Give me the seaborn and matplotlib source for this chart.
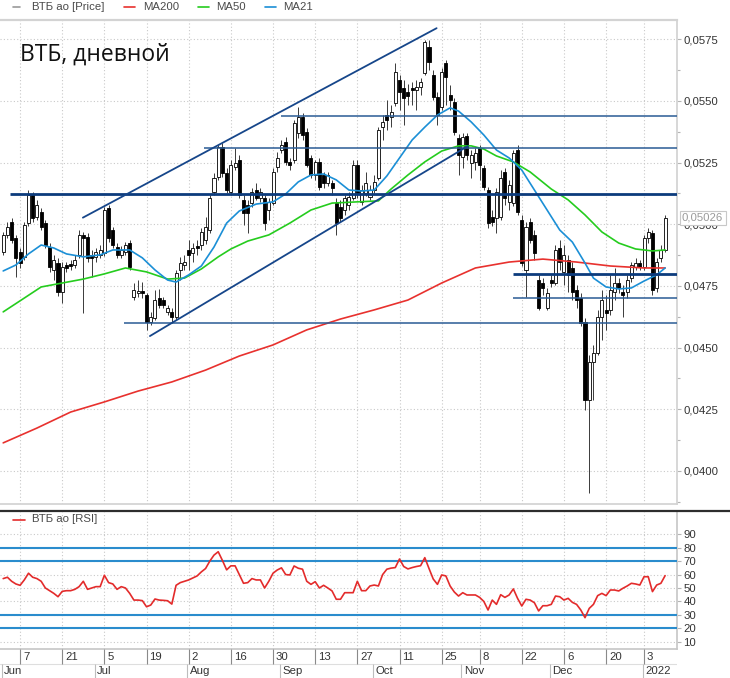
import numpy as np
import pandas as pd
import matplotlib
matplotlib.use("Agg")
import matplotlib.pyplot as plt
import matplotlib.transforms as mtrans
from matplotlib.lines import Line2D
from matplotlib.ticker import MultipleLocator, FuncFormatter
import seaborn as sns

# торговые дни MOEX, 1 июня 2021 - 11 января 2022
days = pd.bdate_range("2021-06-01", "2022-01-11", freq="C",
                      holidays=["2021-11-04", "2021-12-31", "2022-01-07"])

# свечи ВТБ ао (O, H, L, C), читаю с картинки
opens = [0.04888, 0.04957, 0.05009, 0.04945, 0.04888, 0.04868, 0.05005, 0.05119, 0.05030, 0.05050,
         0.05005, 0.04908, 0.04815, 0.04843, 0.04726, 0.04835, 0.04839, 0.04835, 0.04876, 0.04957,
         0.04949, 0.04876, 0.04868, 0.04876, 0.04884, 0.05066, 0.04977, 0.04908, 0.04876, 0.04888,
         0.04924, 0.04705, 0.04722, 0.04730, 0.04713, 0.04604, 0.04620, 0.04701, 0.04693, 0.04645,
         0.04645, 0.04624, 0.04815, 0.04835, 0.04896, 0.04884, 0.04912, 0.04916, 0.04936, 0.04977,
         0.05131, 0.05192, 0.05313, 0.05208, 0.05131, 0.05232, 0.05261, 0.05099, 0.05078, 0.05086,
         0.05139, 0.05107, 0.05107, 0.05058, 0.05086, 0.05232, 0.05301, 0.05334, 0.05253, 0.05261,
         0.05370, 0.05435, 0.05374, 0.05269, 0.05200, 0.05253, 0.05200, 0.05167, 0.05167, 0.05086,
         0.05070, 0.05058, 0.05078, 0.05107, 0.05240, 0.05091, 0.05127, 0.05111, 0.05139, 0.05188,
         0.05395, 0.05443, 0.05435, 0.05492, 0.05585, 0.05553, 0.05536, 0.05553, 0.05544, 0.05557,
         0.05613, 0.05719, 0.05605, 0.05516, 0.05475, 0.05654, 0.05524, 0.05496, 0.05350, 0.05273,
         0.05358, 0.05249, 0.05253, 0.05309, 0.05228, 0.05139, 0.05030, 0.05026, 0.05030, 0.05212,
         0.05091, 0.05086, 0.05301, 0.05018, 0.04815, 0.05009, 0.04957, 0.04774, 0.04762, 0.04661,
         0.04774, 0.04762, 0.04904, 0.04807, 0.04855, 0.04823, 0.04734, 0.04701, 0.04604, 0.04288,
         0.04442, 0.04478, 0.04624, 0.04653, 0.04653, 0.04726, 0.04762, 0.04726, 0.04726, 0.04782,
         0.04827, 0.04843, 0.04827, 0.04945, 0.04965, 0.04742, 0.04864, 0.04896]
highs = [0.04969, 0.05009, 0.05026, 0.04957, 0.04904, 0.05009, 0.05139, 0.05131, 0.05099, 0.05066,
         0.05018, 0.04924, 0.04876, 0.04864, 0.04847, 0.04847, 0.04855, 0.04876, 0.04977, 0.04969,
         0.04965, 0.04896, 0.04904, 0.04916, 0.05070, 0.05078, 0.04989, 0.04924, 0.04912, 0.04928,
         0.04936, 0.04762, 0.04774, 0.04766, 0.04722, 0.04645, 0.04734, 0.04738, 0.04705, 0.04673,
         0.04661, 0.04815, 0.04868, 0.04876, 0.04936, 0.04924, 0.04936, 0.04985, 0.05030, 0.05119,
         0.05208, 0.05322, 0.05330, 0.05228, 0.05261, 0.05309, 0.05281, 0.05119, 0.05099, 0.05147,
         0.05167, 0.05147, 0.05119, 0.05107, 0.05228, 0.05293, 0.05342, 0.05354, 0.05269, 0.05423,
         0.05476, 0.05451, 0.05391, 0.05281, 0.05261, 0.05269, 0.05212, 0.05212, 0.05180, 0.05107,
         0.05099, 0.05119, 0.05131, 0.05261, 0.05261, 0.05159, 0.05212, 0.05159, 0.05200, 0.05395,
         0.05443, 0.05504, 0.05484, 0.05654, 0.05605, 0.05585, 0.05569, 0.05577, 0.05585, 0.05593,
         0.05747, 0.05747, 0.05626, 0.05536, 0.05634, 0.05666, 0.05565, 0.05512, 0.05366, 0.05370,
         0.05370, 0.05301, 0.05309, 0.05322, 0.05240, 0.05151, 0.05058, 0.05147, 0.05220, 0.05228,
         0.05180, 0.05301, 0.05322, 0.05038, 0.05009, 0.05026, 0.04977, 0.04795, 0.04782, 0.04742,
         0.04795, 0.04916, 0.04936, 0.04916, 0.04876, 0.04847, 0.04754, 0.04722, 0.04620, 0.04470,
         0.04511, 0.04653, 0.04734, 0.04713, 0.04795, 0.04823, 0.04782, 0.04754, 0.04795, 0.04847,
         0.04864, 0.04855, 0.04957, 0.04985, 0.04977, 0.04864, 0.04916, 0.05038]
lows = [0.04876, 0.04945, 0.04924, 0.04786, 0.04823, 0.04855, 0.04993, 0.05009, 0.05018, 0.04977,
        0.04904, 0.04807, 0.04774, 0.04709, 0.04681, 0.04807, 0.04815, 0.04823, 0.04864, 0.04640,
        0.04847, 0.04786, 0.04847, 0.04864, 0.04872, 0.04928, 0.04904, 0.04864, 0.04864, 0.04876,
        0.04815, 0.04693, 0.04705, 0.04701, 0.04572, 0.04592, 0.04612, 0.04661, 0.04661, 0.04632,
        0.04600, 0.04612, 0.04774, 0.04815, 0.04815, 0.04847, 0.04876, 0.04896, 0.04920, 0.04965,
        0.05119, 0.05180, 0.05192, 0.05127, 0.05119, 0.05220, 0.05107, 0.04997, 0.04965, 0.05070,
        0.05099, 0.05091, 0.04977, 0.05018, 0.05078, 0.05212, 0.05289, 0.05240, 0.05220, 0.05249,
        0.05350, 0.05342, 0.05232, 0.05188, 0.05180, 0.05139, 0.05147, 0.05155, 0.05119, 0.04957,
        0.05009, 0.05038, 0.05058, 0.05099, 0.05107, 0.05078, 0.05115, 0.05099, 0.05127, 0.05180,
        0.05342, 0.05382, 0.05395, 0.05480, 0.05463, 0.05403, 0.05484, 0.05484, 0.05463, 0.05524,
        0.05605, 0.05626, 0.05504, 0.05403, 0.05463, 0.05484, 0.05463, 0.05362, 0.05200, 0.05228,
        0.05261, 0.05188, 0.05220, 0.05180, 0.05139, 0.04985, 0.04993, 0.04965, 0.05018, 0.05078,
        0.05058, 0.05074, 0.05038, 0.04831, 0.04705, 0.04924, 0.04855, 0.04653, 0.04713, 0.04653,
        0.04746, 0.04754, 0.04815, 0.04754, 0.04726, 0.04693, 0.04661, 0.04588, 0.04247, 0.03911,
        0.04288, 0.04470, 0.04531, 0.04572, 0.04632, 0.04693, 0.04722, 0.04624, 0.04701, 0.04766,
        0.04815, 0.04815, 0.04815, 0.04924, 0.04713, 0.04726, 0.04847, 0.04888]
closes = [0.04957, 0.04989, 0.04936, 0.04864, 0.04843, 0.04997, 0.05119, 0.05026, 0.05078, 0.04989,
          0.04916, 0.04827, 0.04855, 0.04726, 0.04827, 0.04823, 0.04831, 0.04855, 0.04957, 0.04945,
          0.04864, 0.04864, 0.04888, 0.04896, 0.05058, 0.04945, 0.04916, 0.04876, 0.04896, 0.04916,
          0.04827, 0.04734, 0.04730, 0.04722, 0.04604, 0.04624, 0.04693, 0.04673, 0.04673, 0.04661,
          0.04624, 0.04803, 0.04843, 0.04847, 0.04876, 0.04904, 0.04904, 0.04969, 0.04989, 0.05107,
          0.05188, 0.05313, 0.05208, 0.05139, 0.05240, 0.05249, 0.05119, 0.05046, 0.05046, 0.05131,
          0.05107, 0.05131, 0.05005, 0.05091, 0.05212, 0.05269, 0.05322, 0.05253, 0.05240, 0.05411,
          0.05435, 0.05362, 0.05240, 0.05200, 0.05253, 0.05151, 0.05167, 0.05200, 0.05147, 0.05005,
          0.05026, 0.05107, 0.05111, 0.05240, 0.05127, 0.05139, 0.05167, 0.05139, 0.05172, 0.05382,
          0.05415, 0.05423, 0.05455, 0.05617, 0.05536, 0.05512, 0.05520, 0.05544, 0.05557, 0.05577,
          0.05739, 0.05658, 0.05516, 0.05443, 0.05617, 0.05597, 0.05504, 0.05374, 0.05281, 0.05354,
          0.05281, 0.05281, 0.05289, 0.05240, 0.05151, 0.05005, 0.05009, 0.05131, 0.05188, 0.05107,
          0.05159, 0.05289, 0.05050, 0.04843, 0.04989, 0.04936, 0.04884, 0.04661, 0.04742, 0.04722,
          0.04762, 0.04896, 0.04847, 0.04876, 0.04795, 0.04726, 0.04693, 0.04600, 0.04288, 0.04442,
          0.04478, 0.04624, 0.04693, 0.04640, 0.04734, 0.04762, 0.04742, 0.04713, 0.04774, 0.04835,
          0.04843, 0.04827, 0.04945, 0.04969, 0.04734, 0.04847, 0.04896, 0.05026]

# скользящие средние (номер свечи -> значение)
ma200_idx = [0, 8, 16, 24, 32, 40, 48, 56, 64, 72, 80, 88, 96, 104, 112, 120, 128, 136, 144, 152, 157]
ma200 = [0.04114, 0.04174, 0.04239, 0.04280, 0.04324, 0.04361, 0.04409, 0.04466, 0.04511, 0.04572,
         0.04616, 0.04653, 0.04693, 0.04762, 0.04823, 0.04847, 0.04859, 0.04847, 0.04831, 0.04823, 0.04823]
ma50_idx = [0, 5, 9, 14, 19, 24, 29, 34, 39, 43, 47, 51, 54, 58, 63, 68, 73, 78, 84,
            89, 92, 96, 100, 104, 108, 111, 114, 117, 121, 125, 130, 134, 138, 142, 146, 150, 154, 157]
ma50 = [0.04645, 0.04701, 0.04746, 0.04762, 0.04778, 0.04799, 0.04823, 0.04807, 0.04778, 0.04782,
        0.04819, 0.04868, 0.04900, 0.04932, 0.04957, 0.05005, 0.05058, 0.05086, 0.05091, 0.05095,
        0.05143, 0.05200, 0.05253, 0.05297, 0.05318, 0.05318, 0.05305, 0.05277, 0.05253, 0.05212,
        0.05143, 0.05099, 0.05038, 0.04969, 0.04924, 0.04900, 0.04892, 0.04896]
ma21_idx = [0, 3, 6, 9, 12, 15, 19, 23, 26, 30, 33, 36, 39, 41, 44, 47, 50, 53, 56, 60, 64, 67,
            70, 73, 76, 79, 82, 85, 88, 91, 94, 97, 100, 103, 106, 108, 111, 114, 117, 120, 123,
            126, 129, 132, 135, 138, 140, 143, 146, 149, 152, 155, 157]
ma21 = [0.04811, 0.04835, 0.04880, 0.04916, 0.04904, 0.04880, 0.04868, 0.04876, 0.04896, 0.04896,
        0.04864, 0.04815, 0.04774, 0.04766, 0.04795, 0.04831, 0.04908, 0.05005, 0.05054, 0.05082,
        0.05091, 0.05123, 0.05172, 0.05200, 0.05204, 0.05180, 0.05139, 0.05135, 0.05139, 0.05196,
        0.05269, 0.05342, 0.05394, 0.05443, 0.05472, 0.05459, 0.05415, 0.05362, 0.05301, 0.05269,
        0.05220, 0.05139, 0.05058, 0.04977, 0.04928, 0.04843, 0.04782, 0.04746, 0.04738, 0.04742,
        0.04770, 0.04795, 0.04823]

rsi = [57, 58, 55, 53, 52, 56, 61, 58, 57, 55,
       50, 48, 46, 43.5, 47.5, 48, 48, 49, 51, 55,
       49, 50, 51, 51, 59.5, 54, 53, 49, 51, 50,
       46, 41, 41, 40.6, 36, 37.3, 41.8, 41, 40.8, 40.5,
       38, 52, 54, 55, 56, 57.5, 59, 62, 64.5, 70,
       74.5, 77, 70.5, 63.5, 66.5, 66.5, 60, 53.5, 54, 57,
       56, 56, 50, 55, 61, 63.4, 65, 60, 59.7, 66.4,
       64.7, 64, 55, 52.7, 54.7, 50, 52, 50, 47.8, 41.6,
       41.6, 46.5, 46.5, 46.5, 55, 48, 48, 51.5, 52.2, 51.5,
       60, 64, 64.8, 65.2, 71.6, 66, 64.2, 65.2, 66, 66.6,
       72.6, 64.5, 56.7, 52.7, 59.7, 59, 51.5, 47, 44, 46.5,
       44.8, 44.8, 44.8, 43, 40, 33.6, 41, 37.8, 45, 43,
       44.8, 49.3, 42.3, 36.6, 41.6, 41, 39, 32.9, 36.8, 36.8,
       37.8, 44, 43.5, 41, 42.3, 39.3, 37.8, 33.6, 27.9, 34.8,
       37.8, 44.3, 46, 44.3, 48.5, 48.5, 47.8, 49.8, 51.5, 53.5,
       53, 52.2, 58.4, 58.4, 47.3, 52.2, 53.5, 59.2]
rsi_levels = [80, 70, 30, 20]

# уровни и канал
level_price = [0.05122, 0.05439, 0.05311, 0.04800, 0.04700, 0.04601]
level_start = [1.6, 65.9, 47.6, 120.9, 120.9, 28.7]
level_thick = [True, False, False, True, False, False]
channel_up = [(18.9, 0.05027), (102.8, 0.05795)]
channel_low = [(34.8, 0.04547), (110.2, 0.05317)]

tick_dates = ["2021-06-07", "2021-06-21", "2021-07-05", "2021-07-19", "2021-08-02", "2021-08-16",
              "2021-08-30", "2021-09-13", "2021-09-27", "2021-10-11", "2021-10-25", "2021-11-08",
              "2021-11-22", "2021-12-06", "2021-12-20", "2022-01-03"]
month_names = ["Jun", "Jul", "Aug", "Sep", "Oct", "Nov", "Dec", "2022"]

sns.set_theme(style="white")
plt.rcParams["font.family"] = ["Liberation Sans", "DejaVu Sans"]

W, H = 730, 678
fig = plt.figure(figsize=(W / 100, H / 100), dpi=100)
ax = fig.add_axes([0, 1 - 504 / H, 677 / W, 484 / H])
ax_r = fig.add_axes([0, 1 - 649.3 / H, 677 / W, 137.3 / H])
ax_d = fig.add_axes([0, 0, 677 / W, 28.7 / H])

x = np.arange(len(days))
xlim = (-0.76, 159.82)
tick_idx = [days.get_loc(pd.Timestamp(d)) for d in tick_dates]
tick_lab = [str(pd.Timestamp(d).day) for d in tick_dates]
month_idx = [int(np.argmax(days.to_period("M") == p)) for p in days.to_period("M").unique()]

grid_kw = dict(color="#c9c9c9", linestyle=(0, (1, 2)), linewidth=0.8)
fmt = FuncFormatter(lambda v, _: f"{v:.4f}".replace(".", ","))

# --- цена ---
o = np.array(opens); c = np.array(closes)
up = c >= o
ax.vlines(x, lows, highs, color="#3a3a3a", linewidth=0.7, zorder=2)
ax.bar(x, np.maximum(np.abs(c - o), 0.00002), bottom=np.minimum(o, c), width=0.72,
       color=np.where(up, "white", "black"), edgecolor="black", linewidth=0.6, zorder=3)

sns.lineplot(x=ma200_idx, y=ma200, ax=ax, color="#e8312e", linewidth=1.2, zorder=4)
sns.lineplot(x=ma50_idx, y=ma50, ax=ax, color="#25cc1e", linewidth=1.2, zorder=4)
sns.lineplot(x=ma21_idx, y=ma21, ax=ax, color="#1b8fd6", linewidth=1.2, zorder=4)

for p, s, thick in zip(level_price, level_start, level_thick):
    ax.hlines(p, s, xlim[1], color="#0c3b7c" if thick else "#2a5b94",
              linewidth=2.0 if thick else 1.1, zorder=5)
for ln in (channel_up, channel_low):
    ax.plot([ln[0][0], ln[1][0]], [ln[0][1], ln[1][1]], color="#16468a", linewidth=1.3, zorder=5)

ax.set_xlim(*xlim)
ax.set_ylim(0.038662, 0.058282)
ax.set_xticks(tick_idx)
ax.set_yticks([0.0400, 0.0425, 0.0450, 0.0475, 0.0500, 0.0525, 0.0550, 0.0575])
ax.yaxis.set_minor_locator(MultipleLocator(0.00125))
ax.yaxis.set_major_formatter(fmt)
ax.yaxis.tick_right()
ax.tick_params(axis="x", length=0, labelbottom=False)
ax.tick_params(axis="y", which="major", length=3, width=0.8, color="#b5b5b5",
               labelsize=8.2, labelcolor="#333333", pad=1.5)
ax.tick_params(axis="y", which="minor", length=2, width=0.8, color="#b5b5b5")
ax.grid(True, **grid_kw)
ax.set_axisbelow(True)
ax.spines["left"].set_visible(False)
for s in ("top", "right", "bottom"):
    ax.spines[s].set_color("#d3d3d3")
ax.spines["top"].set_linewidth(1.6)
ax.set_xlabel(""); ax.set_ylabel("")

ax.text(1 + 5 / 677, closes[-1], f"{closes[-1]:.5f}".replace(".", ","),
        transform=mtrans.blended_transform_factory(ax.transAxes, ax.transData),
        ha="left", va="center", fontsize=8.2, color="#9a9a9a", zorder=10, clip_on=False,
        bbox=dict(boxstyle="square,pad=0.2", fc="white", ec="#c8c8c8", lw=0.8))

fig.text(20 / W, 1 - 61 / H, "ВТБ, дневной", fontsize=16.5, color="#111111",
         family=["Open Sans", "DejaVu Sans"], va="baseline", ha="left")

# --- RSI ---
sns.lineplot(x=x, y=rsi, ax=ax_r, color="#e32b2b", linewidth=1.2, zorder=4)
for lv in rsi_levels:
    ax_r.axhline(lv, color="#2a8ccd", linewidth=1.5, zorder=3)
ax_r.set_xlim(*xlim)
ax_r.set_ylim(4.34, 106.6)
ax_r.set_xticks(tick_idx)
ax_r.set_yticks(range(10, 100, 10))
ax_r.yaxis.tick_right()
ax_r.tick_params(axis="x", length=0, labelbottom=False)
ax_r.tick_params(axis="y", length=3, width=0.8, color="#b5b5b5",
                 labelsize=8.2, labelcolor="#333333", pad=1.5)
ax_r.grid(True, **grid_kw)
ax_r.set_axisbelow(True)
ax_r.spines["left"].set_visible(False)
ax_r.spines["top"].set_visible(False)
for s in ("right", "bottom"):
    ax_r.spines[s].set_color("#c8c8c8")
ax_r.set_xlabel(""); ax_r.set_ylabel("")

fig.add_artist(Line2D([0, 1], [1 - 511 / H] * 2, color="#2d2d2d", linewidth=1.6))

# --- легенды ---
def legend_item(x0, x1, xt, yc, color, label):
    fig.add_artist(Line2D([x0 / W, x1 / W], [1 - yc / H] * 2, color=color, linewidth=1.2))
    fig.text(xt / W, 1 - yc / H, label, fontsize=8.2, color="#4a4a4a", va="center", ha="left")

legend_item(13, 20, 32, 6.5, "#9a9a9a", "ВТБ ао [Price]")
legend_item(124, 135, 143, 6.5, "#e8312e", "MA200")
legend_item(198, 209, 216, 6.5, "#25cc1e", "MA50")
legend_item(265, 276, 283, 6.5, "#1b8fd6", "MA21")
legend_item(13, 25, 32, 519.5, "#e32b2b", "ВТБ ао [RSI]")

# --- шкала дат ---
ax_d.set_xlim(*xlim)
ax_d.set_ylim(0, 1)
ax_d.axis("off")
ax_d.axhline(0.49, color="#dedede", linewidth=0.8)
ax_d.vlines(tick_idx, 0.49, 1, color="#8a8a8a", linewidth=0.8)
for t, lab in zip(tick_idx, tick_lab):
    ax_d.text(t + 0.7, 0.72, lab, fontsize=8.2, color="#333333", va="center", ha="left")
ax_d.vlines(np.array(month_idx) - 0.3, 0, 0.49, color="#bdbdbd", linewidth=0.8)
for m, lab in zip(month_idx, month_names):
    ax_d.text(m + 0.25, 0.23, lab, fontsize=8.2, color="#333333", va="center", ha="left")

fig.savefig("out.png", dpi=100)
